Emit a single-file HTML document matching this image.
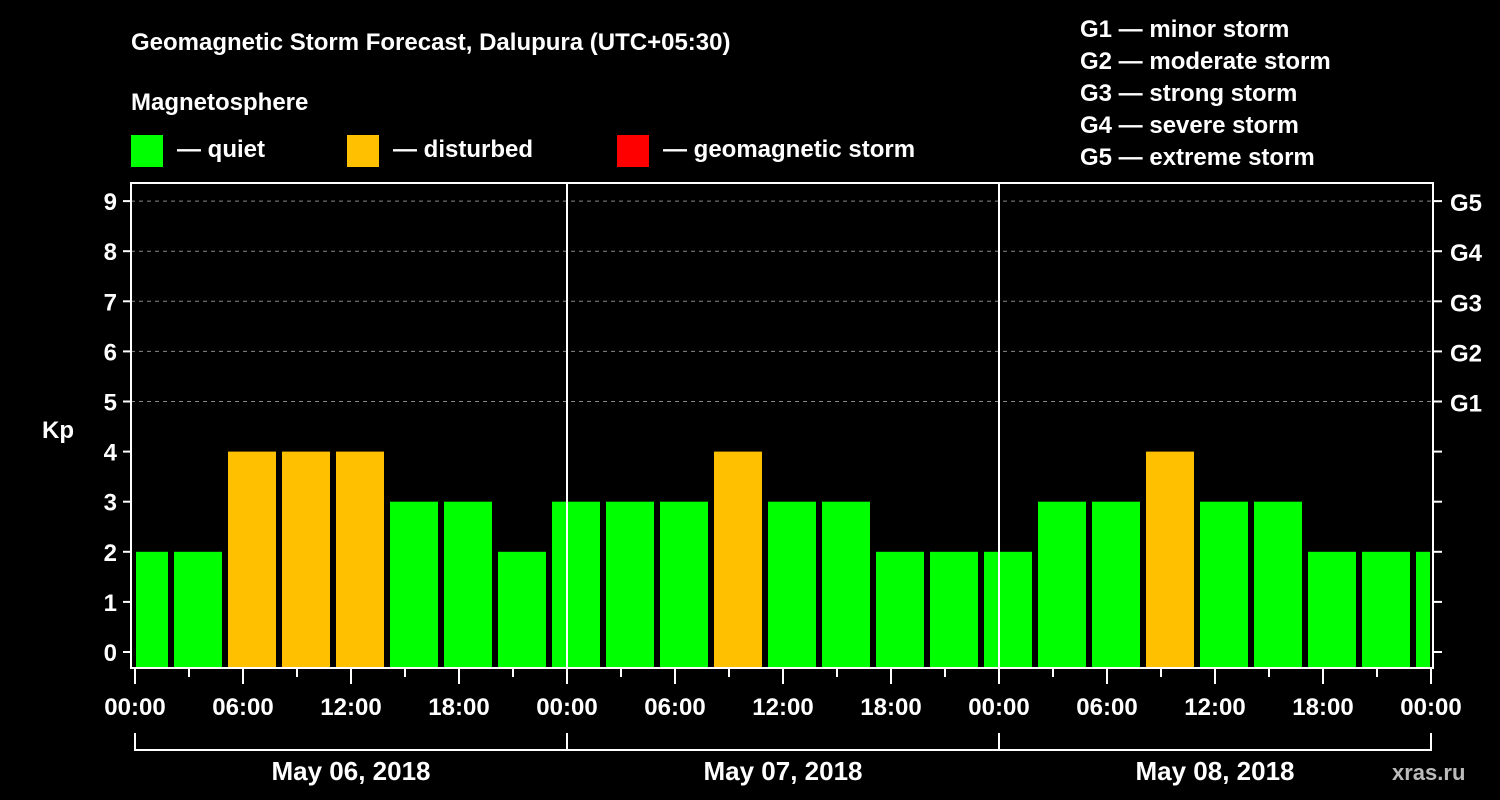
<!DOCTYPE html>
<html><head><meta charset="utf-8">
<style>
html,body{margin:0;padding:0;background:#000;width:1500px;height:800px;overflow:hidden}
svg text{font-family:"Liberation Sans",sans-serif;font-weight:bold;fill:#fff}
</style></head>
<body>
<svg id="chart" width="1500" height="800" xmlns="http://www.w3.org/2000/svg">
<text x="131" y="50" font-size="24">Geomagnetic Storm Forecast, Dalupura (UTC+05:30)</text>
<text x="131" y="110" font-size="24">Magnetosphere</text>
<g>
<rect x="131" y="135" width="32" height="32" fill="#00ff00"/>
<text x="177" y="157" font-size="24">— quiet</text>
<rect x="347" y="135" width="32" height="32" fill="#ffc000"/>
<text x="393" y="157" font-size="24">— disturbed</text>
<rect x="617" y="135" width="32" height="32" fill="#ff0000"/>
<text x="663" y="157" font-size="24">— geomagnetic storm</text>
</g>
<g font-size="24">
<text x="1080" y="37">G1 — minor storm</text>
<text x="1080" y="69">G2 — moderate storm</text>
<text x="1080" y="101">G3 — strong storm</text>
<text x="1080" y="133">G4 — severe storm</text>
<text x="1080" y="165">G5 — extreme storm</text>
</g>
<text x="42" y="438" font-size="24">Kp</text>
<text x="1392" y="780" font-size="22" fill="#bbb" style="fill:#bbbbbb">xras.ru</text>
<g id="bars"></g>
<g id="axes"></g>
</svg>
<script>
const kpValues = [2,2,4,4,4,3,3,2, 3,3,3,4,3,3,2,2, 2,3,3,4,3,3,2,2,2];
const yTicks = [0,1,2,3,4,5,6,7,8,9];
const gLabels = ["G1","G2","G3","G4","G5"];
const gLevels = [5,6,7,8,9];
const dayLabels = ["May 06, 2018","May 07, 2018","May 08, 2018"];
const hourLabels = ["00:00","06:00","12:00","18:00"];

const NS="http://www.w3.org/2000/svg";
const L=131,R=1433,T=183,B=668;
const x0=135, pxPerHour=18;
const xH=h=>x0+h*pxPerHour;
const yV=v=>652-v*50.1;
function mk(tag,attrs,parent){const e=document.createElementNS(NS,tag);for(const k in attrs)e.setAttribute(k,attrs[k]);parent.appendChild(e);return e;}
const bars=document.getElementById('bars'), axes=document.getElementById('axes');

// grid
gLevels.forEach((v,i)=>{
  const g=mk('line',{x1:L,x2:R,y1:yV(v),y2:yV(v),stroke:'#888','stroke-dasharray':'4,4','stroke-width':1},axes);
  
  
  const t=mk('text',{x:1450,y:yV(v)+10,'font-size':24},axes);
  t.textContent=gLabels[i];
  
  
});
// bars: 3h blocks starting at local 02:00 offset (-1h)
kpValues.forEach((v,i)=>{
  let xa=xH(-1+3*i)+3, xb=xH(2+3*i)-3;
  xa=Math.max(xa,L+5); xb=Math.min(xb,R-3);
  const c=v>=5?'#ff0000':(v>=4?'#ffc000':'#00ff00');
  const r=mk('rect',{x:xa,y:yV(v),width:xb-xa,height:B-yV(v),fill:c},bars);
  
  
});
// frame
const fr=mk('rect',{x:L,y:T,width:R-L,height:B-T,fill:'none',stroke:'#fff','stroke-width':2},axes);


[1,2].forEach(d=>{
  const l=mk('line',{x1:xH(24*d),x2:xH(24*d),y1:T,y2:B,stroke:'#fff','stroke-width':2},axes);
  
  
});
// y ticks
yTicks.forEach(v=>{
  const tk=mk('line',{x1:L-8,x2:L,y1:yV(v),y2:yV(v),stroke:'#fff','stroke-width':2},axes);
  
  
  const tr=mk('line',{x1:R,x2:R+9,y1:yV(v),y2:yV(v),stroke:'#fff','stroke-width':2},axes);
  
  
  const t=mk('text',{x:L-14,y:yV(v)+9,'font-size':24,'text-anchor':'end'},axes);
  t.textContent=v;
  
  
});
// x ticks
for(let h=0;h<=72;h+=3){
  const major=h%6===0;
  const tk=mk('line',{x1:xH(h),x2:xH(h),y1:B,y2:B+(major?16:9),stroke:'#fff','stroke-width':2},axes);
  
  
  if(major){
    const t=mk('text',{x:xH(h),y:715,'font-size':24,'text-anchor':'middle'},axes);
    t.textContent=hourLabels[(h/6)%4];
    
    
  }
}
// day brackets
const br=mk('path',{d:`M${xH(0)},733 V750 H${xH(72)} V733 M${xH(24)},733 V750 M${xH(48)},733 V750`,fill:'none',stroke:'#fff','stroke-width':2},axes);


dayLabels.forEach((d,i)=>{
  const t=mk('text',{x:xH(24*i+12),y:780,'font-size':26,'text-anchor':'middle'},axes);
  t.textContent=d;
  
  
});
</script>
</body></html>
